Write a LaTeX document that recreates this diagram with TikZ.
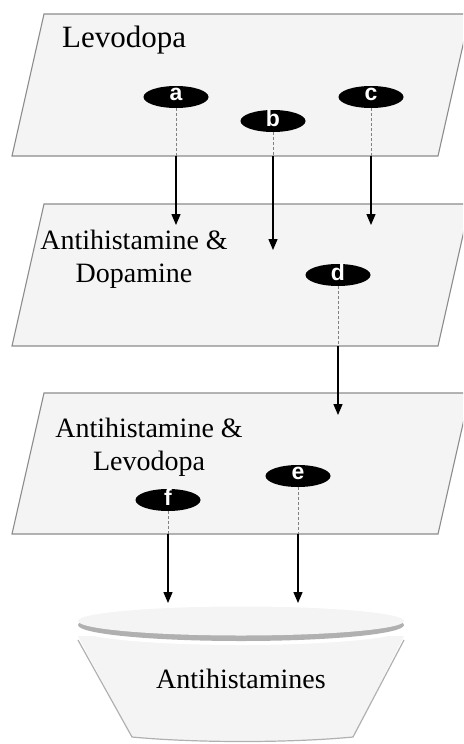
\documentclass[tikz,border=0pt]{standalone}
\usepackage{fontspec}
\setmainfont{Liberation Serif}
\newfontfamily\lblfont{Liberation Sans}
\usetikzlibrary{arrows.meta,shapes.geometric}
\definecolor{planefill}{HTML}{F4F4F4}
\definecolor{planeedge}{HTML}{8C8C8C}
\definecolor{rimgray}{HTML}{B0B0B0}
\begin{document}
\begin{tikzpicture}[x=1pt, y=-1pt, >={Triangle[width=9pt,length=11pt]},
    plane/.style={fill=planefill, draw=planeedge, line width=1.1pt},
    drug/.style={ellipse, fill=black, minimum width=65pt, minimum height=22pt, inner sep=0pt,
                 label={[text=white, font=\lblfont\bfseries\fontsize{23}{23}\selectfont, yshift=3pt]center:#1}},
    dashline/.style={gray, line width=0.9pt, dash pattern=on 3pt off 2pt},
    arr/.style={->, black, line width=1.3pt},
    title/.style={font=\fontsize{28}{33}\selectfont, align=center, anchor=base, inner sep=0pt}]
    % 画布大小
    \useasboundingbox (0,0) rectangle (463,744);
    \clip (0,0) rectangle (463,744);

    % 定义平面的左下角
    \coordinate (p1) at (12,156);
    \coordinate (p2) at (12,346);
    \coordinate (p3) at (12,534);

    % 绘制三个平面
    \draw[plane] (44,14) -- (470,14) -- (438,156) -- (p1) -- cycle;
    \draw[plane] (44,204) -- (470,204) -- (438,346) -- (p2) -- cycle;
    \draw[plane] (44,393) -- (470,393) -- (438,534) -- (p3) -- cycle;

    % 平面上的文字 (基线在最后一行)
    \node[title, anchor=base west, font=\fontsize{31}{33}\selectfont] (levo) at (62,47) {Levodopa};
    \node[title] (ahdopa) at (134,282) {Antihistamine \&\\Dopamine};
    \node[title] (ahlevo) at (149,470) {Antihistamine \&\\Levodopa};

    % 椭圆 a--f
    \node[drug=a] (a) at (176,97) {};
    \node[drug=b] (b) at (273,121) {};
    \node[drug=c] (c) at (371,97) {};
    \node[drug=d] (d) at (338,275) {};
    \node[drug=e] (e) at (298,476) {};
    \node[drug=f] (f) at (168,500) {};

    % 箭头终点
    \coordinate (ta) at (176,225);
    \coordinate (tb) at (273,250);
    \coordinate (tc) at (371,225);
    \coordinate (td) at (338,415);
    \coordinate (te) at (298,603);
    \coordinate (tf) at (168,603);

    % 虚线与箭头
    \draw[dashline] (a) -- (a |- p1);
    \draw[dashline] (b) -- (b |- p1);
    \draw[dashline] (c) -- (c |- p1);
    \draw[dashline] (d) -- (d |- p2);
    \draw[dashline] (e) -- (e |- p3);
    \draw[dashline] (f) -- (f |- p3);
    \draw[arr] (a |- p1) -- (ta);
    \draw[arr] (b |- p1) -- (tb);
    \draw[arr] (c |- p1) -- (tc);
    \draw[arr] (d |- p2) -- (td);
    \draw[arr] (e |- p3) -- (te);
    \draw[arr] (f |- p3) -- (tf);

    % 碗
    \fill[planefill] (78,636) -- (404,636) -- (353,737)
        .. controls (290,743) and (195,743) .. (132,737) -- cycle;
    \draw[rimgray, line width=1.2pt] (78,640) -- (132,737)
        .. controls (195,743) and (290,743) .. (353,737) -- (404,640);
    \fill[white] (241,629) ellipse [x radius=164, y radius=16];
    \fill[rimgray] (241,625) ellipse [x radius=163, y radius=16];
    \fill[planefill] (241,621) ellipse [x radius=163, y radius=14.5];
    \node[title] (bowl) at (241,688) {Antihistamines};
\end{tikzpicture}
\end{document}
